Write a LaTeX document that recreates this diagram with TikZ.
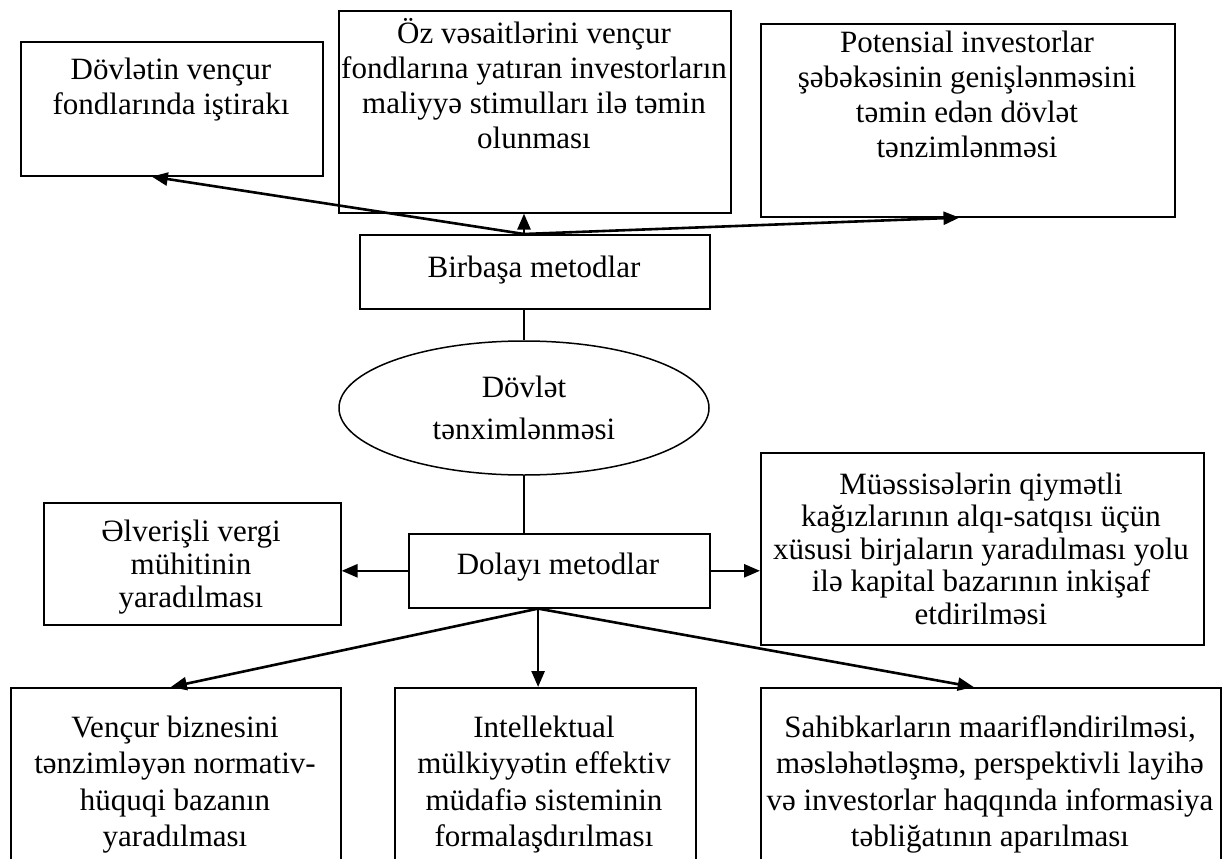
\documentclass[tikz,border=0pt]{standalone}
\usepackage{fontspec}
\setmainfont{Liberation Serif}
\usetikzlibrary{shapes.geometric,arrows.meta,calc}
% invisible rule that fixes the height of a first text line
\newcommand\lnstrut{\rule{0pt}{28pt}}
\begin{document}
\begin{tikzpicture}[x=1pt,y=-1pt,
  box/.style={draw,line width=1.6pt,inner sep=0pt,anchor=north west},
  lbl/.style={inner sep=0pt,align=center,anchor=north,
    font=\fontsize{31}{35}\selectfont},
  arr/.style={line width=2.6pt,-{Triangle[length=16pt,width=13pt]}},
  link/.style={line width=1.5pt}]
\clip (0,0) rectangle (1226,859);
\fill[white] (0,0) rectangle (1226,859);

% upper row: direct methods
\node[box,minimum width=302pt,minimum height=134pt] (b1) at (20,41) {};
\node[lbl] (t1) at (171,51) {\lnstrut Dövlətin vençur\\fondlarında iştirakı};
\node[box,minimum width=392pt,minimum height=202pt] (b2) at (338,10) {};
\node[lbl] (t2) at (534,15) {\lnstrut Öz vəsaitlərini vençur\\fondlarına yatıran investorların\\maliyyə stimulları ilə təmin\\olunması};
\node[box,minimum width=414pt,minimum height=193pt] (b3) at (760,23) {};
\node[lbl] (t3) at (967,24) {\lnstrut Potensial investorlar\\şəbəkəsinin genişlənməsini\\təmin edən dövlət\\tənzimlənməsi};

\node[box,minimum width=350pt,minimum height=74pt] (bir) at (359,234) {};
\node[lbl] (tbir) at (534,249) {\lnstrut Birbaşa metodlar};

% centre
\node[draw,line width=1.5pt,shape=ellipse,minimum width=370pt,minimum height=134pt,inner sep=0pt] (ell) at (524,408) {};
\node[lbl,font=\fontsize{31}{42}\selectfont] (tell) at (524,369) {\lnstrut Dövlət\\tənximlənməsi};

% indirect methods
\node[box,minimum width=301pt,minimum height=74pt] (dol) at (408,533) {};
\node[lbl] (tdol) at (558,546) {\lnstrut Dolayı metodlar};

\node[box,minimum width=297pt,minimum height=122pt] (alv) at (43,502) {};
\node[lbl,font=\fontsize{31}{33}\selectfont] (talv) at (191,513) {\lnstrut Əlverişli vergi\\mühitinin\\yaradılması};
\node[box,minimum width=443pt,minimum height=192pt] (mue) at (760,452) {};
\node[lbl,font=\fontsize{31}{32.5}\selectfont] (tmue) at (981,466) {\lnstrut Müəssisələrin qiymətli\\kağızlarının alqı-satqısı üçün\\xüsusi birjaların yaradılması yolu\\ilə kapital bazarının inkişaf\\etdirilməsi};

% lower row
\node[box,minimum width=330pt,minimum height=200pt] (ven) at (10,687) {};
\node[lbl,font=\fontsize{31}{36.5}\selectfont] (tven) at (175,709) {\lnstrut Vençur biznesini\\tənzimləyən normativ-\\hüquqi bazanın\\yaradılması};
\node[box,minimum width=301pt,minimum height=200pt] (int) at (394,687) {};
\node[lbl,font=\fontsize{31}{36.5}\selectfont] (tint) at (544,709) {\lnstrut Intellektual\\mülkiyyətin effektiv\\müdafiə sisteminin\\formalaşdırılması};
\node[box,minimum width=460pt,minimum height=200pt] (sah) at (760,687) {};
\node[lbl,font=\fontsize{31}{36.5}\selectfont] (tsah) at (990,709) {\lnstrut Sahibkarların maarifləndirilməsi,\\məsləhətləşmə, perspektivli layihə\\və investorlar haqqında informasiya\\təbliğatının aparılması};

% connectors
\draw[arr] (ell |- bir.north) -- ($(b1.south west)!0.434!(b1.south east)$);
\draw[arr] (ell |- bir.north) -- (ell |- b2.south);
\draw[arr] (ell |- bir.north) -- ($(b3.south west)!0.48!(b3.south east)$);
\draw[link] (ell |- bir.south) -- (ell.north);
\draw[link] (ell.south) -- (ell |- dol.north);

\coordinate (dapex) at ($(dol.south west)!0.43!(dol.south east)$);
\draw[arr] (dapex) -- ($(ven.north west)!0.485!(ven.north east)$);
\draw[arr] (dapex) -- (dapex |- int.north);
\draw[arr] (dapex) -- ($(sah.north west)!0.463!(sah.north east)$);
\draw[arr] (dol.west) -- (dol.west -| alv.east);
\draw[arr] (dol.east) -- (dol.east -| mue.west);
\end{tikzpicture}
\end{document}
